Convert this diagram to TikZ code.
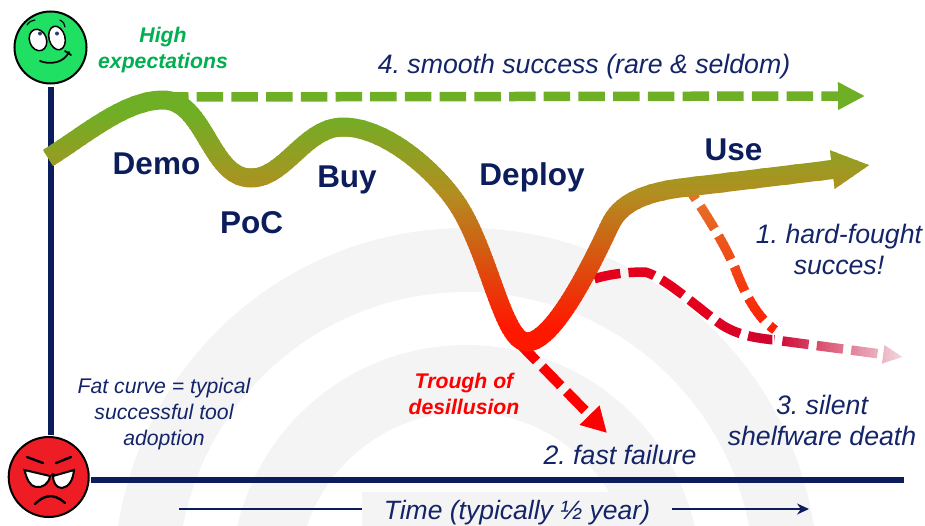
\documentclass[tikz,border=0pt]{standalone}
\usepackage{fontspec}
\setmainfont{Liberation Sans}
\usepackage{tikz}
\usetikzlibrary{arrows.meta}
\frenchspacing
\definecolor{navy}{RGB}{12,29,92}
\definecolor{notenavy}{RGB}{20,36,105}
\definecolor{curvegreen}{RGB}{110,175,38}
\definecolor{curvemid}{RGB}{176,144,32}
\definecolor{curvered}{RGB}{255,24,0}
\definecolor{ringgray}{RGB}{244,244,244}
\definecolor{hopegreen}{RGB}{0,176,80}
\definecolor{happyface}{RGB}{32,224,100}
\definecolor{angryface}{RGB}{238,28,37}
\definecolor{foughtorange}{RGB}{224,128,48}
\definecolor{silentone}{RGB}{228,0,28}
\definecolor{silenttwo}{RGB}{205,5,50}
\definecolor{silentpale}{RGB}{242,215,222}
\tikzset{%
  phase/.style = {font=\fontsize{31.5}{36}\selectfont\bfseries, text=navy, inner sep=0pt},
  outcome/.style = {font=\fontsize{26.7}{31}\selectfont\itshape, text=notenavy, align=center, inner sep=0pt},
  remark/.style = {font=\fontsize{21.2}{26}\selectfont\bfseries\itshape, align=center, inner sep=0pt},
  fatline/.style = {line width=19pt},
  dashline/.style = {line width=9.5pt, dash pattern=on 26.5pt off 8.2pt},
  axisline/.style = {draw=navy, line width=6pt},
  timeline/.style = {draw=navy, line width=1.3pt},
  face/.style = {circle, draw=black, line width=2pt, inner sep=0pt},
  faceline/.style = {draw=black, line width=1.8pt, line cap=round},
  ring/.style = {draw=ringgray}
}
% the three curves that change colour along the way
\newcommand{\fatcurve}[1]{\draw[fatline,draw=#1,-{Triangle[length=38pt,width=36pt]}]
  (curvestart) .. controls (85,135) and (125,100) .. (demotop)
  .. controls (205,100) and (210,178) .. (pocdip)
  .. controls (285,178) and (305,127) .. (buytop)
  .. controls (385,127) and (435,170) .. (458,205)
  .. controls (490,255) and (503,342) .. (troughdip)
  .. controls (556,342) and (598,250) .. (610,225)
  .. controls (618,208) and (635,194) .. (680,188)
  -- (curveend);}
\newcommand{\foughtcurve}[1]{\draw[dashline,dash phase=9pt,draw=#1]
  (useleave) .. controls (700,205) and (720,235) .. (735,268)
  .. controls (745,295) and (758,318) .. (foughtend);}
\newcommand{\silentcurve}[1]{\draw[dashline,dash phase=10pt,draw=#1,-{Triangle[length=20pt,width=17pt]}]
  (silentstart) .. controls (585,280) and (610,272) .. (645,272)
  .. controls (665,277) and (700,310) .. (722,325)
  .. controls (738,335) and (755,338) .. (775,340)
  -- (silentend);}
\begin{document}
\begin{tikzpicture}[x=1pt,y=-1pt]
\useasboundingbox (0,0) rectangle (925,525);
% background
\draw[ring,line width=64pt] (466,580) circle [radius=320];
\draw[ring,line width=67pt] (466,580) circle [radius=201.5];
\coordinate (curvestart) at (48,158);
\coordinate (demotop) at (163,100);
\coordinate (pocdip) at (251,178);
\coordinate (buytop) at (343,127);
\coordinate (troughdip) at (527,342);
\coordinate (curveend) at (870,165);
\coordinate (useleave) at (686,185);
\coordinate (foughtend) at (775,330);
\coordinate (silentstart) at (572,289);
\coordinate (silentend) at (903,357);
\coordinate (smoothstart) at (162,97);
\coordinate (smoothend) at (865,96);
\coordinate (failstart) at (518,342);
\coordinate (failend) at (607,433);
\coordinate (axistop) at (51,87);
\coordinate (axisbottom) at (51,440);
\coordinate (axisleft) at (91,480);
\coordinate (axisright) at (904,480);
\coordinate (timestart) at (179,509);
\coordinate (timeend) at (809,509);
% axes
\draw[axisline] (axistop) -- (axisbottom);
\draw[axisline] (axisleft) -- (axisright);
% time
\node[font=\fontsize{26.5}{31}\selectfont\itshape, text=notenavy, fill=ringgray,
  minimum width=310pt, minimum height=42pt, inner sep=0pt] (timelabel) at (517,513) {Time (typically ½ year)};
\draw[timeline] (timestart) -- (timelabel.west |- timestart);
\draw[timeline,-{Stealth[length=12pt,width=11pt]}] (timelabel.east |- timeend) -- (timeend);
% curves below the fat one
\draw[dashline,draw=curvegreen,-{Triangle[length=27pt,width=26pt]}] (smoothstart) -- (smoothend);
\draw[dashline,draw=red,line width=10pt,-{Triangle[length=25pt,width=26pt]}] (failstart) -- (failend);
\begin{scope}
  \clip (500,200) rectangle (700.4,400);
  \silentcurve{silentone}
\end{scope}
\foreach \bandx in {700,704,...,770}{
  \pgfmathsetmacro\pct{(\bandx-700)/70*100}
  \colorlet{bandcol}{silenttwo!\pct!silentone}
  \begin{scope}
    \clip (\bandx,200) rectangle (\bandx+4.4,400);
    \silentcurve{bandcol}
  \end{scope}
}
\foreach \bandx in {774,778,...,906}{
  \pgfmathsetmacro\pct{min(100,(\bandx-774)/126*100)}
  \colorlet{bandcol}{silentpale!\pct!silenttwo}
  \begin{scope}
    \clip (\bandx,200) rectangle (\bandx+4.4,400);
    \silentcurve{bandcol}
  \end{scope}
}
\foreach \bandy in {170,174,...,340}{
  \pgfmathsetmacro\pct{(\bandy-170)/170*100}
  \colorlet{bandcol}{curvered!\pct!foughtorange}
  \begin{scope}
    \clip (650,\bandy) rectangle (800,\bandy+4.4);
    \foughtcurve{bandcol}
  \end{scope}
}
% the fat curve, band by band
\foreach \bandy in {88,92,...,188}{
  \pgfmathsetmacro\pct{max(0,(\bandy-110)/80*100)}
  \colorlet{bandcol}{curvemid!\pct!curvegreen}
  \begin{scope}
    \clip (0,\bandy) rectangle (925,\bandy+4.4);
    \fatcurve{bandcol}
  \end{scope}
}
\foreach \bandy in {192,196,...,356}{
  \pgfmathsetmacro\pct{min(100,(\bandy-190)/135*100)}
  \colorlet{bandcol}{curvered!\pct!curvemid}
  \begin{scope}
    \clip (0,\bandy) rectangle (925,\bandy+4.4);
    \fatcurve{bandcol}
  \end{scope}
}
% happy face
\node[face,fill=happyface,minimum size=72pt] (happy) at (50.5,47.5) {};
\draw[faceline,line width=1.5pt,fill=white] (38,40) ellipse [x radius=8.5, y radius=11, rotate=20];
\draw[faceline,line width=1.5pt,fill=white] (57,38) ellipse [x radius=8, y radius=12, rotate=15];
\fill[navy!70!gray] (40,33.5) circle [radius=2];
\fill[navy!70!gray] (57,33.5) circle [radius=2];
\draw[faceline,line width=1.2pt] (27,25) .. controls (29,22) and (32,20) .. (35,20);
\draw[faceline,line width=1.2pt] (60,20) .. controls (63,21) and (65,24) .. (65,27);
\draw[faceline] (40,61) .. controls (50,65) and (64,63) .. (69,52);
\draw[faceline] (65,51) -- (71,55);
% angry face
\node[face,fill=angryface,minimum size=82pt,draw=white,line width=2pt] (angryhalo) at (48.7,477) {};
\node[face,fill=angryface,minimum size=80pt] (angry) at (48.7,477) {};
\draw[faceline,fill=white,line width=2pt] (24.5,470) -- (50,476) .. controls (49,484) and (42,488) .. (36,487) .. controls (30,486) and (27,480) .. (24.5,470) -- cycle;
\draw[faceline,fill=white,line width=2pt] (53,476) -- (74,470) .. controls (73,480) and (69,487) .. (62,488) .. controls (56,488) and (53,482) .. (53,476) -- cycle;
\fill[black] (53,475) circle [radius=2];
\draw[faceline,line width=2.4pt] (27,457) -- (43,463);
\draw[faceline,line width=2.4pt] (56,463) -- (71,457);
\draw[faceline,line width=2.4pt] (35,504) .. controls (42,497) and (52,491) .. (65,503);
% labels
\node[phase,anchor=base] (demo) at (156.5,174) {Demo};
\node[phase,anchor=base] (poc) at (251.5,233) {PoC};
\node[phase,anchor=base] (buy) at (347,187) {Buy};
\node[phase,anchor=base] (deploy) at (532,185) {Deploy};
\node[phase,anchor=base] (use) at (733.5,160) {Use};
\node[remark,text=hopegreen] (highexp) at (163,50) {High\\expectations};
\node[remark,text=red] (desillusion) at (464,394) {Trough of\\desillusion};
\node[remark,text=notenavy,font=\fontsize{21.2}{26}\selectfont\itshape] (fatnote) at (164,414.5) {Fat curve = typical\\successful tool\\adoption};
\node[outcome,anchor=base] (smooth) at (584,73) {4. smooth success (rare \& seldom)};
\node[outcome] (fought) at (839,249.5) {1. hard-fought\\succes!};
\node[outcome,anchor=base] (fastfail) at (620,464) {2. fast failure};
\node[outcome] (silent) at (822,420) {3. silent\\shelfware death};
\end{tikzpicture}
\end{document}
